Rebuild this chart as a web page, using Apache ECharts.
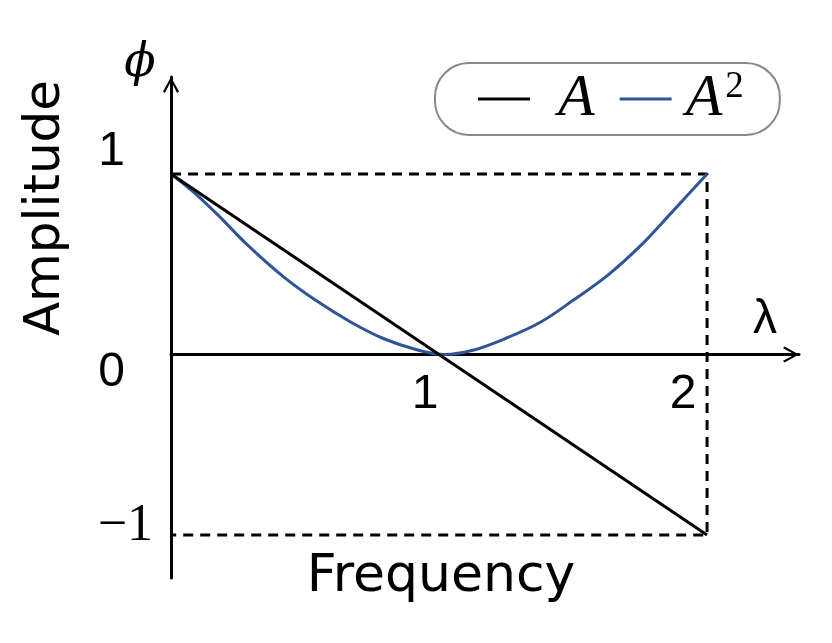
<!DOCTYPE html>
<html><head><meta charset="utf-8">
<script src="https://cdn.jsdelivr.net/npm/echarts@6/dist/echarts.min.js"></script>
<style>html,body{margin:0;padding:0;background:#fff}#c{width:832px;height:643px}</style>
</head><body><div id="c"></div>
<script>
// ---- data ----
const seriesNames = ['A', 'A2'];
const lineX = [0, 2];
const lineA = [1, -1];
const curveX = [0, 0.08, 0.17, 0.29, 0.42, 0.54, 0.67, 0.79, 0.92, 1.02, 1.13, 1.25, 1.38, 1.50, 1.63, 1.75, 1.87, 2.0];
const curveA2 = [1.0, 0.905, 0.78, 0.60, 0.43, 0.30, 0.18, 0.09, 0.025, 0.0, 0.025, 0.09, 0.18, 0.30, 0.44, 0.60, 0.79, 1.0];
const boxX = [0, 2, 2, 0];
const boxY = [1, 1, -1, -1];
const xTicks = [1, 2];
const xTickLabels = ['1', '2'];
const yTicks = [1, 0, -1];
const yTickLabels = ['1', '0', '\u22121'];
const xName = 'Frequency';
const yName = 'Amplitude';
const xSymbol = '\u03bb';
const ySymbol = '\u03d5';

const pairs = (xs, ys) => xs.map((x, i) => [x, ys[i]]);
const arrow = 'path://M8,0L16,14.5L14.2,16L8,4.2L1.8,16L0,14.5Z';

const chart = echarts.init(document.getElementById('c'), null, {renderer: 'canvas'});
chart.setOption({
  animation: false,
  backgroundColor: '#fff',
  grid: {left: 171, right: 33, top: 77, bottom: 65, containLabel: false, outerBoundsMode: 'none'},
  xAxis: {
    type: 'value', min: 0, max: 2.343,
    name: xName, nameLocation: 'middle', nameGap: -27,
    nameTextStyle: {fontFamily: 'DejaVu Sans', fontSize: 52, color: '#000', padding: [0, 88, 0, 0]},
    axisLine: {onZero: true, lineStyle: {color: '#000', width: 3},
      symbol: ['none', arrow], symbolSize: [16, 16], symbolOffset: [0, -8]},
    axisTick: {show: false}, splitLine: {show: false},
    axisLabel: {
      customValues: xTicks, margin: -183, verticalAlign: 'middle',
      formatter: v => { const i = xTicks.indexOf(v); return '{x' + i + '|' + xTickLabels[i] + '}'; },
      rich: {
        x0: {fontFamily: 'Liberation Sans', fontSize: 48, color: '#000', padding: [0, 28, 0, 0]},
        x1: {fontFamily: 'Liberation Sans', fontSize: 48, color: '#000', padding: [0, 48, 0, 0]}
      }
    }
  },
  yAxis: {
    type: 'value', min: -1.238, max: 1.537,
    name: yName, nameLocation: 'middle', nameGap: 100, nameRotate: 90,
    nameTextStyle: {fontFamily: 'DejaVu Sans', fontSize: 50, color: '#000', padding: [0, 0, 0, 239]},
    axisLine: {onZero: true, lineStyle: {color: '#000', width: 3},
      symbol: ['none', arrow], symbolSize: [16, 16], symbolOffset: [0, -8]},
    axisTick: {show: false}, splitLine: {show: false},
    axisLabel: {
      customValues: yTicks, margin: 0,
      formatter: v => { const i = yTicks.indexOf(v); return '{y' + i + '|' + yTickLabels[i] + '}'; },
      rich: {
        y0: {fontFamily: 'Liberation Sans', fontSize: 48, color: '#000', padding: [0, 46, 44, 0]},
        y1: {fontFamily: 'Liberation Sans', fontSize: 48, color: '#000', padding: [37, 46, 0, 0]},
        y2: {fontFamily: 'Liberation Serif', fontSize: 52, color: '#000', padding: [0, 18, 18, 0]}
      }
    }
  },
  legend: {
    data: seriesNames, left: 435, top: 63, orient: 'horizontal',
    icon: 'rect', itemWidth: 52, itemHeight: 3, itemGap: 25,
    padding: [6, 36, 6, 43],
    borderColor: '#888', borderWidth: 2, borderRadius: 34,
    formatter: n => n === 'A' ? '{g1|}{i|A}' : '{g2|}{i|A}{s|2}',
    textStyle: {
      color: '#000',
      rich: {
        g1: {width: 23},
        g2: {width: 9},
        i: {fontFamily: 'Liberation Serif', fontStyle: 'italic', fontSize: 60, lineHeight: 60, color: '#000'},
        s: {fontFamily: 'Liberation Serif', fontSize: 37, lineHeight: 26, verticalAlign: 'top', color: '#000', padding: [0, 0, 0, 3]}
      }
    }
  },
  graphic: [
    {type: 'text', x: 140, y: 64, style: {text: ySymbol, fill: '#000', font: 'italic 46px "DejaVu Serif"', textAlign: 'center', textVerticalAlign: 'middle'}},
    {type: 'text', x: 765, y: 320, style: {text: xSymbol, fill: '#000', font: '48px "Liberation Sans"', textAlign: 'center', textVerticalAlign: 'middle'}}
  ],
  series: [
    {name: 'box', type: 'line', data: pairs(boxX, boxY), showSymbol: false, silent: true,
      lineStyle: {color: '#000', width: 3, type: [10, 7]}, z: 1},
    {name: 'A2', type: 'line', data: pairs(curveX, curveA2), smooth: 0.35, showSymbol: false,
      color: '#2f5597', lineStyle: {color: '#2f5597', width: 3}, z: 2},
    {name: 'A', type: 'line', data: pairs(lineX, lineA), showSymbol: false,
      color: '#000', lineStyle: {color: '#000', width: 3}, z: 3}
  ]
});
</script></body></html>
